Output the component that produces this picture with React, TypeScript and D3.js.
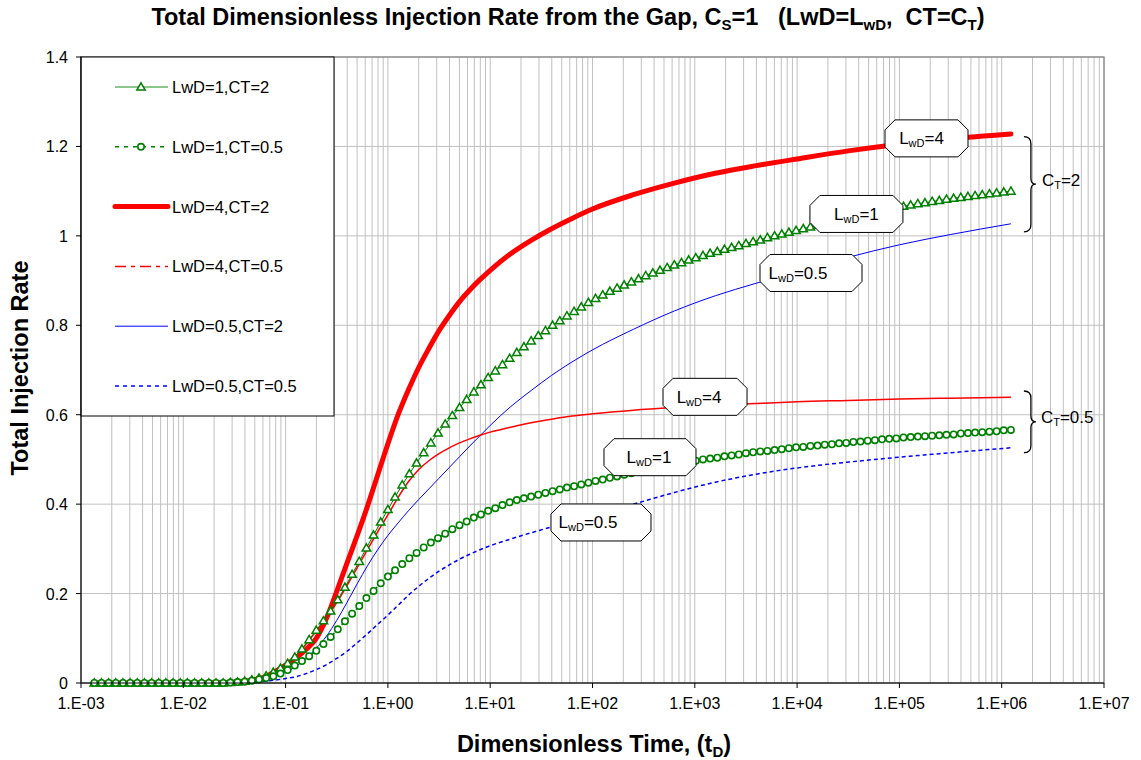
import React from "react";
import * as d3 from "d3";

const WIDTH = 1141;
const HEIGHT = 760;
const PLOT = { left: 81, right: 1104, top: 57, bottom: 683 };

const FONT = "Arial, 'Liberation Sans', Helvetica, sans-serif";

// Axis ticks
const xTickValues = [1e-3, 1e-2, 1e-1, 1e0, 1e1, 1e2, 1e3, 1e4, 1e5, 1e6, 1e7];
const xTickLabels = ["1.E-03", "1.E-02", "1.E-01", "1.E+00", "1.E+01", "1.E+02", "1.E+03", "1.E+04", "1.E+05", "1.E+06", "1.E+07"];
const yTickValues = [0, 0.2, 0.4, 0.6, 0.8, 1, 1.2, 1.4];
const yTickLabels = ["0", "0.2", "0.4", "0.6", "0.8", "1", "1.2", "1.4"];

// Sampling times (log10 tD) of the marker series: equally spaced in log time
const markerLogT = d3.range(129).map((i) => -2.87 + 0.07 * i);

// LwD=1, CT=2 (triangles)
const lwd1Ct2 = [
  0, 0, 0, 0, 0, 0, 0, 0, 0, 0,
  0, 0, 0, 0, 0, 0, 0, 0, 0, 0.001,
  0.002, 0.004, 0.007, 0.011, 0.016, 0.024, 0.033, 0.044, 0.058, 0.076,
  0.097, 0.118, 0.139, 0.161, 0.186, 0.214, 0.243, 0.272, 0.302, 0.331,
  0.36, 0.388, 0.416, 0.443, 0.468, 0.492, 0.515, 0.537, 0.559, 0.579,
  0.598, 0.616, 0.634, 0.651, 0.667, 0.683, 0.698, 0.712, 0.726, 0.739,
  0.752, 0.765, 0.777, 0.788, 0.8, 0.81, 0.821, 0.831, 0.841, 0.851,
  0.86, 0.868, 0.876, 0.883, 0.89, 0.897, 0.904, 0.911, 0.917, 0.923,
  0.929, 0.935, 0.94, 0.946, 0.951, 0.956, 0.961, 0.965, 0.97, 0.974,
  0.978, 0.983, 0.987, 0.991, 0.996, 1.0, 1.004, 1.008, 1.012, 1.016,
  1.02, 1.024, 1.028, 1.032, 1.035, 1.039, 1.042, 1.046, 1.049, 1.053,
  1.056, 1.06, 1.063, 1.066, 1.069, 1.072, 1.074, 1.077, 1.079, 1.082,
  1.084, 1.086, 1.088, 1.09, 1.092, 1.094, 1.096, 1.098, 1.1,
];

// LwD=1, CT=0.5 (circles)
const lwd1Ct05 = [
  0, 0, 0, 0, 0, 0, 0, 0, 0, 0,
  0, 0, 0, 0, 0, 0, 0, 0, 0, 0.001,
  0.002, 0.003, 0.005, 0.008, 0.011, 0.015, 0.021, 0.029, 0.039, 0.049,
  0.06, 0.072, 0.087, 0.103, 0.12, 0.138, 0.155, 0.172, 0.19, 0.206,
  0.223, 0.238, 0.252, 0.266, 0.279, 0.291, 0.303, 0.314, 0.324, 0.334,
  0.344, 0.353, 0.361, 0.37, 0.377, 0.385, 0.391, 0.398, 0.404, 0.409,
  0.413, 0.417, 0.421, 0.425, 0.429, 0.433, 0.437, 0.44, 0.444, 0.448,
  0.452, 0.455, 0.459, 0.462, 0.466, 0.469, 0.473, 0.476, 0.479, 0.482,
  0.485, 0.488, 0.491, 0.494, 0.497, 0.5, 0.502, 0.504, 0.507, 0.509,
  0.511, 0.514, 0.516, 0.518, 0.519, 0.521, 0.523, 0.525, 0.527, 0.528,
  0.53, 0.531, 0.533, 0.534, 0.536, 0.537, 0.539, 0.54, 0.542, 0.543,
  0.545, 0.546, 0.547, 0.549, 0.55, 0.551, 0.552, 0.553, 0.554, 0.555,
  0.556, 0.558, 0.559, 0.56, 0.561, 0.562, 0.563, 0.565, 0.566,
];

// Sampling times (log10 tD) of the plain line series
const lineLogT = [
  -2.87, -2.0, -1.6, -1.4, -1.2,
  -1.0, -0.9, -0.8, -0.7, -0.6, -0.5, -0.4, -0.3, -0.2, -0.1,
  0.0, 0.1, 0.2, 0.3, 0.4, 0.5, 0.6, 0.7, 0.8, 0.9,
  1.0, 1.2, 1.4, 1.6, 1.8,
  2.0, 2.4, 2.8, 3.2, 3.6,
  4.0, 4.5, 5.0, 5.5, 6.09,
];

// LwD=4, CT=2
const lwd4Ct2 = [
  0, 0, 0.001, 0.004, 0.014,
  0.04, 0.056, 0.075, 0.1, 0.145, 0.205, 0.268, 0.33, 0.395, 0.465,
  0.535, 0.6, 0.655, 0.705, 0.748, 0.788, 0.822, 0.853, 0.879, 0.902,
  0.923, 0.96, 0.99, 1.016, 1.039,
  1.06, 1.092, 1.118, 1.14, 1.157,
  1.172, 1.19, 1.205, 1.217, 1.228,
];

// LwD=4, CT=0.5
const lwd4Ct05 = [
  0, 0, 0, 0.004, 0.015,
  0.04, 0.06, 0.087, 0.116, 0.146, 0.18, 0.218, 0.258, 0.298, 0.338,
  0.376, 0.415, 0.45, 0.477, 0.497, 0.513, 0.526, 0.537, 0.546, 0.554,
  0.561, 0.572, 0.582, 0.59, 0.597,
  0.602, 0.61, 0.616, 0.621, 0.625,
  0.629, 0.632, 0.635, 0.637, 0.639,
];

// LwD=0.5, CT=2
const lwd05Ct2 = [
  0, 0, 0, 0.002, 0.008,
  0.024, 0.037, 0.055, 0.078, 0.105, 0.14, 0.18, 0.222, 0.262, 0.298,
  0.33, 0.358, 0.385, 0.41, 0.434, 0.458, 0.482, 0.506, 0.53, 0.553,
  0.576, 0.618, 0.654, 0.688, 0.718,
  0.745, 0.791, 0.832, 0.866, 0.894,
  0.92, 0.952, 0.98, 1.003, 1.027,
];

// LwD=0.5, CT=0.5
const lwd05Ct05 = [
  0, 0, 0, 0.001, 0.004,
  0.01, 0.014, 0.021, 0.03, 0.041, 0.055, 0.071, 0.09, 0.11, 0.131,
  0.152, 0.174, 0.196, 0.216, 0.234, 0.25, 0.264, 0.277, 0.288, 0.298,
  0.307, 0.322, 0.336, 0.349, 0.362,
  0.375, 0.4, 0.426, 0.449, 0.467,
  0.481, 0.494, 0.505, 0.515, 0.526,
];

const legendNames = [
  "LwD=1,CT=2",
  "LwD=1,CT=0.5",
  "LwD=4,CT=2",
  "LwD=4,CT=0.5",
  "LwD=0.5,CT=2",
  "LwD=0.5,CT=0.5",
];

// Callout labels, anchored in data units (log10 tD, rate)
const calloutValues = ["4", "1", "0.5", "4", "1", "0.5"];
const calloutLogT = [5.265, 4.58, 4.136, 3.1, 2.562, 2.083];
const calloutLevel = [1.218, 1.049, 0.917, 0.64, 0.505, 0.359];

type Marker = "triangle" | "circle" | null;
interface Series {
  name: string;
  logT: number[];
  values: number[];
  color: string;
  width: number;
  dash: string | null;
  legendDash: string | null;
  marker: Marker;
  curve: boolean;
}

const GREEN = "#008000";
const RED = "#FF0000";
const BLUE = "#0000FF";

const series: Series[] = [
  { name: legendNames[0], logT: markerLogT, values: lwd1Ct2, color: GREEN, width: 1, dash: null, legendDash: null, marker: "triangle", curve: false },
  { name: legendNames[1], logT: markerLogT, values: lwd1Ct05, color: GREEN, width: 1.6, dash: "3,4", legendDash: "4,5", marker: "circle", curve: false },
  { name: legendNames[2], logT: lineLogT, values: lwd4Ct2, color: RED, width: 5, dash: null, legendDash: null, marker: null, curve: true },
  { name: legendNames[3], logT: lineLogT, values: lwd4Ct05, color: RED, width: 1.5, dash: null, legendDash: "11,5,4,5", marker: null, curve: true },
  { name: legendNames[4], logT: lineLogT, values: lwd05Ct2, color: BLUE, width: 1, dash: null, legendDash: null, marker: null, curve: true },
  { name: legendNames[5], logT: lineLogT, values: lwd05Ct05, color: BLUE, width: 1.5, dash: "4,3", legendDash: "4,4", marker: null, curve: true },
];

const x = d3.scaleLog().domain([1e-3, 1e7]).range([PLOT.left, PLOT.right]);
const y = d3.scaleLinear().domain([0, 1.4]).range([PLOT.bottom, PLOT.top]);

const trianglePath = "M0,-4.2L4.2,3L-4.2,3Z";

function MarkerShape({ kind, cx, cy, color }: { kind: Marker; cx: number; cy: number; color: string }) {
  if (kind === "triangle") {
    return <path d={trianglePath} transform={`translate(${cx},${cy})`} fill="#fff" stroke={color} strokeWidth={1.5} />;
  }
  if (kind === "circle") {
    return <circle cx={cx} cy={cy} r={3.2} fill="#fff" stroke={color} strokeWidth={1.6} />;
  }
  return null;
}

function octagon(cx: number, cy: number, w: number, h: number, c: number) {
  const x0 = cx - w / 2, x1 = cx + w / 2, y0 = cy - h / 2, y1 = cy + h / 2;
  return `M${x0 + c},${y0}L${x1 - c},${y0}L${x1},${y0 + c}L${x1},${y1 - c}L${x1 - c},${y1}L${x0 + c},${y1}L${x0},${y1 - c}L${x0},${y0 + c}Z`;
}

function brace(xl: number, y0: number, y1: number) {
  const mid = (y0 + y1) / 2;
  const xv = xl + 7;
  const xt = xl + 12;
  return `M${xl},${y0}Q${xv},${y0} ${xv},${y0 + 7}L${xv},${mid - 6}Q${xv},${mid} ${xt},${mid}Q${xv},${mid} ${xv},${mid + 6}L${xv},${y1 - 7}Q${xv},${y1} ${xl},${y1}`;
}

export default function App() {
  const minorX: number[] = [];
  for (let k = -3; k < 7; k++) {
    for (let m = 1; m < 10; m++) minorX.push(m * Math.pow(10, k));
  }
  minorX.push(1e7);

  const lineGen = (curved: boolean) =>
    d3
      .line<[number, number]>()
      .x((d) => x(Math.pow(10, d[0])))
      .y((d) => y(d[1]))
      .curve(curved ? d3.curveMonotoneX : d3.curveLinear);

  const drawOrder = [5, 4, 3, 2, 0, 1];

  const calloutW = [83, 93, 102, 84, 92, 100];
  const calloutDx = [-5, 0, -13, -6, -1, -13];
  const calloutH = 37;

  const lastX = x(Math.pow(10, 6.09));
  const braceX = lastX + 13;

  const legendBox = { x0: PLOT.left, y0: PLOT.top, x1: 334, y1: 416 };
  const legendRowY = (i: number) => 87 + i * 59.8;

  return (
    <svg
      width={WIDTH}
      height={HEIGHT}
      style={{ position: "absolute", left: 0, top: 0, background: "#fff" }}
      fontFamily={FONT}
    >
      <rect x={0} y={0} width={WIDTH} height={HEIGHT} fill="#fff" />

      {/* Title */}
      <text x={568} y={25} textAnchor="middle" fontSize={23.5} fontWeight="bold">
        Total Dimensionless Injection Rate from the Gap, C
        <tspan fontSize={15} dy={5}>S</tspan>
        <tspan dy={-5}>{"=1\u00a0\u00a0\u00a0(LwD=L"}</tspan>
        <tspan fontSize={15} dy={5}>wD</tspan>
        <tspan dy={-5}>{",\u00a0\u00a0CT=C"}</tspan>
        <tspan fontSize={15} dy={5}>T</tspan>
        <tspan dy={-5}>)</tspan>
      </text>

      {/* Grid */}
      <g stroke="#c0c0c0" strokeWidth={1}>
        {minorX.map((v, i) => (
          <line key={`gx${i}`} x1={x(v)} x2={x(v)} y1={PLOT.top} y2={PLOT.bottom} />
        ))}
        {yTickValues.map((v, i) => (
          <line key={`gy${i}`} x1={PLOT.left} x2={PLOT.right} y1={y(v)} y2={y(v)} />
        ))}
      </g>
      <rect
        x={PLOT.left}
        y={PLOT.top}
        width={PLOT.right - PLOT.left}
        height={PLOT.bottom - PLOT.top}
        fill="none"
        stroke="#808080"
        strokeWidth={1.2}
      />

      {/* Series */}
      {drawOrder.map((si) => {
        const s = series[si];
        const pts: [number, number][] = s.logT.map((t, i) => [t, s.values[i]]);
        return (
          <g key={`s${si}`}>
            <path
              d={lineGen(s.curve)(pts) || ""}
              fill="none"
              stroke={s.color}
              strokeWidth={s.width}
              strokeDasharray={s.dash || undefined}
              strokeLinejoin="round"
              strokeLinecap={s.width > 3 ? "round" : "butt"}
            />
            {s.marker &&
              pts.map((p, i) => (
                <MarkerShape key={i} kind={s.marker} cx={x(Math.pow(10, p[0]))} cy={y(p[1])} color={s.color} />
              ))}
          </g>
        );
      })}

      {/* Callouts */}
      {calloutValues.map((v, i) => {
        const cx = x(Math.pow(10, calloutLogT[i]));
        const cy = y(calloutLevel[i]);
        return (
          <g key={`c${i}`}>
            <path d={octagon(cx, cy, calloutW[i], calloutH, 10)} fill="#fff" stroke="#000" strokeWidth={1} />
            <text x={cx + calloutDx[i]} y={cy + 6} textAnchor="middle" fontSize={17}>
              L<tspan fontSize={11} dy={3}>wD</tspan>
              <tspan dy={-3}>={v}</tspan>
            </text>
          </g>
        );
      })}

      {/* Braces grouping the two CT families */}
      <path d={brace(braceX, y(1.222), y(1.009))} fill="none" stroke="#000" strokeWidth={1.3} />
      <text x={braceX + 18} y={186} fontSize={17}>
        C<tspan fontSize={11} dy={3}>T</tspan>
        <tspan dy={-3}>=2</tspan>
      </text>
      <path d={brace(braceX, y(0.653), y(0.515))} fill="none" stroke="#000" strokeWidth={1.3} />
      <text x={braceX + 17} y={423} fontSize={17}>
        C<tspan fontSize={11} dy={3}>T</tspan>
        <tspan dy={-3}>=0.5</tspan>
      </text>

      {/* Legend */}
      <rect
        x={legendBox.x0}
        y={legendBox.y0}
        width={legendBox.x1 - legendBox.x0}
        height={legendBox.y1 - legendBox.y0}
        fill="#fff"
        stroke="#000"
        strokeWidth={1}
      />
      {series.map((s, i) => {
        const ly = legendRowY(i);
        return (
          <g key={`l${i}`}>
            <line
              x1={115}
              x2={168}
              y1={ly}
              y2={ly}
              stroke={s.color}
              strokeWidth={s.marker === "triangle" ? 1.3 : s.width}
              strokeOpacity={s.marker === "triangle" ? 0.6 : 1}
              strokeDasharray={s.legendDash || undefined}
              strokeLinecap={s.width > 3 ? "round" : "butt"}
            />
            {s.marker && <MarkerShape kind={s.marker} cx={141} cy={ly} color={s.color} />}
            <text x={172} y={ly + 6} fontSize={16.5}>
              {s.name}
            </text>
          </g>
        );
      })}

      {/* Axes */}
      <g stroke="#000" strokeWidth={1}>
        <line x1={PLOT.left} x2={PLOT.left} y1={PLOT.top} y2={PLOT.bottom} />
        <line x1={PLOT.left} x2={PLOT.right} y1={PLOT.bottom} y2={PLOT.bottom} />
        {yTickValues.map((v, i) => (
          <line key={`ty${i}`} x1={PLOT.left - 5} x2={PLOT.left} y1={y(v)} y2={y(v)} />
        ))}
        {xTickValues.map((v, i) => (
          <line key={`tx${i}`} x1={x(v)} x2={x(v)} y1={PLOT.bottom} y2={PLOT.bottom + 5} />
        ))}
      </g>
      {yTickValues.map((v, i) => (
        <text key={`yl${i}`} x={68} y={y(v) + 6} textAnchor="end" fontSize={16}>
          {yTickLabels[i]}
        </text>
      ))}
      {xTickValues.map((v, i) => (
        <text key={`xl${i}`} x={x(v)} y={709} textAnchor="middle" fontSize={16}>
          {xTickLabels[i]}
        </text>
      ))}

      {/* Axis titles */}
      <text x={594} y={752} textAnchor="middle" fontSize={23.5} fontWeight="bold">
        Dimensionless Time, (t<tspan fontSize={15} dy={5}>D</tspan>
        <tspan dy={-5}>)</tspan>
      </text>
      <text
        transform={`translate(28,${368}) rotate(-90)`}
        textAnchor="middle"
        fontSize={23.5}
        fontWeight="bold"
      >
        Total Injection Rate
      </text>
    </svg>
  );
}
